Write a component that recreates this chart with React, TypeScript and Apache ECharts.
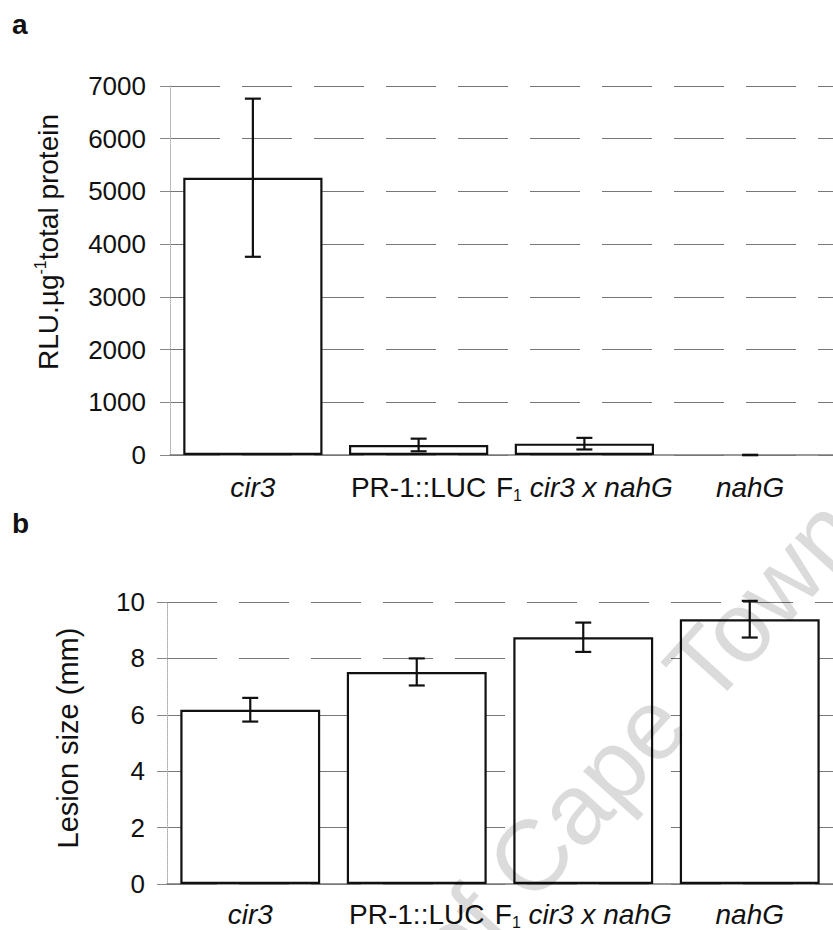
import React, { useEffect, useRef } from "react";
import * as echarts from "echarts";

const categories = ["cir3", "PR-1::LUC", "F1 cir3 x nahG", "nahG"];
const rluValues = [5260, 190, 215, 0];
const rluErrors = [1500, 120, 110, 4];
const lesionValues = [6.18, 7.52, 8.75, 9.39];
const lesionErrors = [0.42, 0.48, 0.52, 0.65];
const rluAxis = { min: 0, max: 7000, interval: 1000 };
const lesionAxis = { min: 0, max: 10, interval: 2 };

const FONT = "Liberation Sans, Arial, sans-serif";

const catLabel = (v: string) => {
  if (v === "cir3") return "{i|cir3}";
  if (v === "nahG") return "{i|nahG}";
  if (v === "PR-1::LUC") return "{r|PR-1::LUC}";
  return "{r|F}{s|1}{r| }{i|cir3 x nahG}";
};

const labelRich = {
  r: { fontFamily: FONT, fontSize: 28, color: "#111", lineHeight: 32 },
  i: { fontFamily: FONT, fontSize: 28, fontStyle: "italic", color: "#111", lineHeight: 32 },
  s: { fontFamily: FONT, fontSize: 16, color: "#111", lineHeight: 15, verticalAlign: "bottom" },
};

function errRender(params: any, api: any) {
  const x = api.value(0);
  const y = api.value(1);
  const e = api.value(2);
  const hi = api.coord([x, y + e]);
  const lo = api.coord([x, y - e]);
  const hw = 8;
  const st = { stroke: "#111", lineWidth: 2.2 };
  return {
    type: "group",
    children: [
      { type: "line", shape: { x1: hi[0], y1: hi[1], x2: lo[0], y2: lo[1] }, style: st },
      { type: "line", shape: { x1: hi[0] - hw, y1: hi[1], x2: hi[0] + hw, y2: hi[1] }, style: st },
      { type: "line", shape: { x1: lo[0] - hw, y1: lo[1], x2: lo[0] + hw, y2: lo[1] }, style: st },
    ],
  };
}

const barData = (vals: number[]) =>
  vals.map((v) => (v === 0 ? { value: v, itemStyle: { borderWidth: 0 } } : v));

export default function App() {
  const ref = useRef<HTMLDivElement>(null);
  useEffect(() => {
    if (!ref.current) return;
    const chart = echarts.init(ref.current, null, { renderer: "svg" });
    const yAxisCommon = (ax: any, gridIndex: number, margin: number) => ({
      type: "value",
      gridIndex,
      min: ax.min,
      max: ax.max,
      interval: ax.interval,
      axisLine: { show: true, lineStyle: { color: "#aaa", type: "dotted", width: 1 } },
      axisTick: { show: true, length: 10, lineStyle: { color: "#888", width: 1 } },
      axisLabel: {
        margin,
        fontFamily: FONT,
        fontSize: 26,
        color: "#111",
        formatter: (v: number) => String(v),
      },
      splitLine: { show: true, lineStyle: { color: "#777", type: [50, 22], width: 1.2 } },
    });
    const xAxisCommon = (gridIndex: number, margin: number) => ({
      type: "category",
      gridIndex,
      data: categories,
      boundaryGap: true,
      axisTick: { show: false },
      axisLine: { show: true, lineStyle: { color: "#777", width: 1.5 } },
      axisLabel: { margin, formatter: catLabel, rich: labelRich, interval: 0 },
    });
    const barCommon = {
      type: "bar",
      barCategoryGap: "16%",
      itemStyle: { color: "#fff", borderColor: "#111", borderWidth: 2.2 },
      silent: true,
    };
    const wmStyle = {
      verticalAlign: "middle",
      fontFamily: FONT,
      fontSize: 100,
      fill: "rgba(0,0,0,0.14)",
    };
    chart.setOption({
      animation: false,
      backgroundColor: "#fff",
      grid: [
        { left: 170, top: 86, height: 369, width: 675 },
        { left: 167, top: 602, height: 285, width: 675 },
      ],
      xAxis: [xAxisCommon(0, 16), xAxisCommon(1, 14)],
      yAxis: [yAxisCommon(rluAxis, 0, 24), yAxisCommon(lesionAxis, 1, 22)],
      series: [
        { ...barCommon, xAxisIndex: 0, yAxisIndex: 0, data: barData(rluValues) },
        {
          type: "custom",
          xAxisIndex: 0,
          yAxisIndex: 0,
          renderItem: errRender,
          data: rluValues.map((v, i) => [i, v, rluErrors[i]]),
          z: 5,
        },
        { ...barCommon, xAxisIndex: 1, yAxisIndex: 1, data: barData(lesionValues) },
        {
          type: "custom",
          xAxisIndex: 1,
          yAxisIndex: 1,
          renderItem: errRender,
          data: lesionValues.map((v, i) => [i, v, lesionErrors[i]]),
          z: 5,
        },
      ],
      graphic: [
        {
          type: "text",
          left: 12,
          top: 10,
          style: { text: "a", fontFamily: FONT, fontSize: 28, fontWeight: "bold", fill: "#111" },
        },
        {
          type: "text",
          left: 12,
          top: 509,
          style: { text: "b", fontFamily: FONT, fontSize: 28, fontWeight: "bold", fill: "#111" },
        },
        {
          type: "text",
          x: 48,
          y: 242,
          rotation: Math.PI / 2,
          style: {
            text: "{m|RLU.µg}{p|-1}{m|total protein}",
            align: "center",
            verticalAlign: "middle",
            rich: {
              m: { fontFamily: FONT, fontSize: 28, fill: "#111", lineHeight: 32 },
              p: { fontFamily: FONT, fontSize: 16, fill: "#111", lineHeight: 15, verticalAlign: "top" },
            },
          },
        },
        {
          type: "text",
          x: 68,
          y: 738,
          rotation: Math.PI / 2,
          style: {
            text: "Lesion size (mm)",
            align: "center",
            verticalAlign: "middle",
            fontFamily: FONT,
            fontSize: 29,
            fill: "#111",
          },
        },
        {
          type: "text",
          x: 506,
          y: 883,
          rotation: 0.834,
          z: 100,
          silent: true,
          style: { ...wmStyle, text: "Cape Town", align: "left" },
        },
        {
          type: "text",
          x: 506,
          y: 883,
          rotation: 0.834,
          z: 100,
          silent: true,
          style: { ...wmStyle, text: "University of ", align: "right" },
        },
      ],
    });
    return () => chart.dispose();
  }, []);
  return (
    <div
      ref={ref}
      style={{ position: "absolute", left: 0, top: 0, width: 833, height: 930, background: "#fff" }}
    />
  );
}
